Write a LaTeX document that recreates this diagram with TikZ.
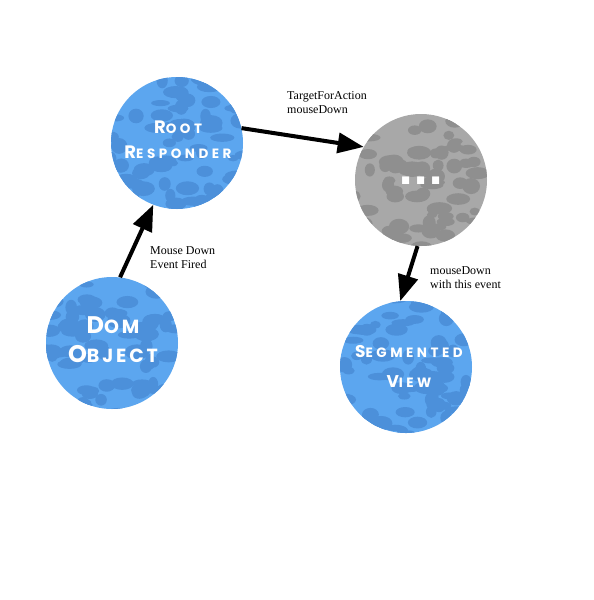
\documentclass[tikz,border=0pt]{standalone}
\usepackage{fontspec}
\usetikzlibrary{arrows.meta}
\newfontfamily\nodefont{Poppins}[LetterSpace=26]
\newfontfamily\nodefontb{Poppins}[LetterSpace=15]
\newfontfamily\dotfont{DejaVu Sans}
\newfontfamily\lblfont{Liberation Serif}
\definecolor{bubbleblue}{HTML}{5CA6EF}
\definecolor{bubblebluedark}{HTML}{4C90DA}
\definecolor{bubblegray}{HTML}{A8A8A8}
\definecolor{bubblegraydark}{HTML}{8F8F8F}
\definecolor{shadowink}{HTML}{1A3A66}
\newcommand\capw[4]{{\fontsize{#1}{#1}\selectfont#2}{\fontsize{#3}{#3}\selectfont#4}}
\tikzset{
  bubble/.style 2 args={circle, minimum size=132pt, inner sep=0pt, fill=#1,
    path picture={
      \foreach \k in {1,...,75}{
        \pgfmathsetmacro\bx{rand*70}
        \pgfmathsetmacro\by{rand*70}
        \pgfmathsetmacro\ba{5+rnd*8}
        \pgfmathsetmacro\bb{3+rnd*5}
        \pgfmathsetmacro\bt{rnd*180}
        \fill[#2, rotate around={\bt:([shift={(\bx pt,\by pt)}]path picture bounding box.center)}]
          ([shift={(\bx pt,\by pt)}]path picture bounding box.center) ellipse (\ba pt and \bb pt);
      }
    }},
  nodetext/.style 2 args={text=white, align=center, inner sep=0pt,
    font=#1\bfseries\fontsize{14}{#2}\selectfont},
  lbl/.style={font=\lblfont\fontsize{12}{13.5}\selectfont, align=left,
    inner sep=0pt, anchor=base west},
  arr/.style={line width=4pt, -{Triangle[length=26pt,width=20pt]}},
}
\begin{document}
\begin{tikzpicture}[x=1pt,y=-1pt]
\fill[white] (0,0) rectangle (594,600);
\useasboundingbox (0,0) rectangle (594,600);
\pgfmathsetseed{7}
% bubbles
\node[bubble={bubbleblue}{bubblebluedark}] (root) at (177,143) {};
\node[bubble={bubblegray}{bubblegraydark}] (dots) at (421,180) {};
\node[bubble={bubbleblue}{bubblebluedark}] (dom) at (112,343) {};
\node[bubble={bubbleblue}{bubblebluedark}] (seg) at (406,367) {};
% texts
\node[nodetext={\nodefont}{25}] (roott) at (178,140) {\capw{18}{R}{13.5}{OOT}\\\capw{18}{R}{13.5}{ESPONDER}};
\node[nodetext={\nodefontb}{29}] (domt) at (113,340) {\capw{24}{D}{19}{OM}\\\capw{24}{O}{19}{BJECT}};
\node[nodetext={\nodefont}{30}] (segt) at (409,366) {\capw{17}{S}{13.5}{EGMENTED}\\\capw{17}{V}{13.5}{IEW}};
\node[text=white, inner sep=0pt, font=\dotfont\bfseries\fontsize{40}{40}\selectfont] (dotst) at (421,181) {...};
% arrows
\draw[arr] (dom.83) -- (root.249);
\draw[arr] (root.13) -- (dots.150);
\draw[arr] (dots.267) -- (seg.95);
% labels
\node[lbl] (l1) at (287,113) {TargetForAction\\mouseDown};
\node[lbl] (l2) at (150,268) {Mouse Down\\Event Fired};
\node[lbl] (l3) at (430,288) {mouseDown\\with this event};
\end{tikzpicture}
\end{document}
